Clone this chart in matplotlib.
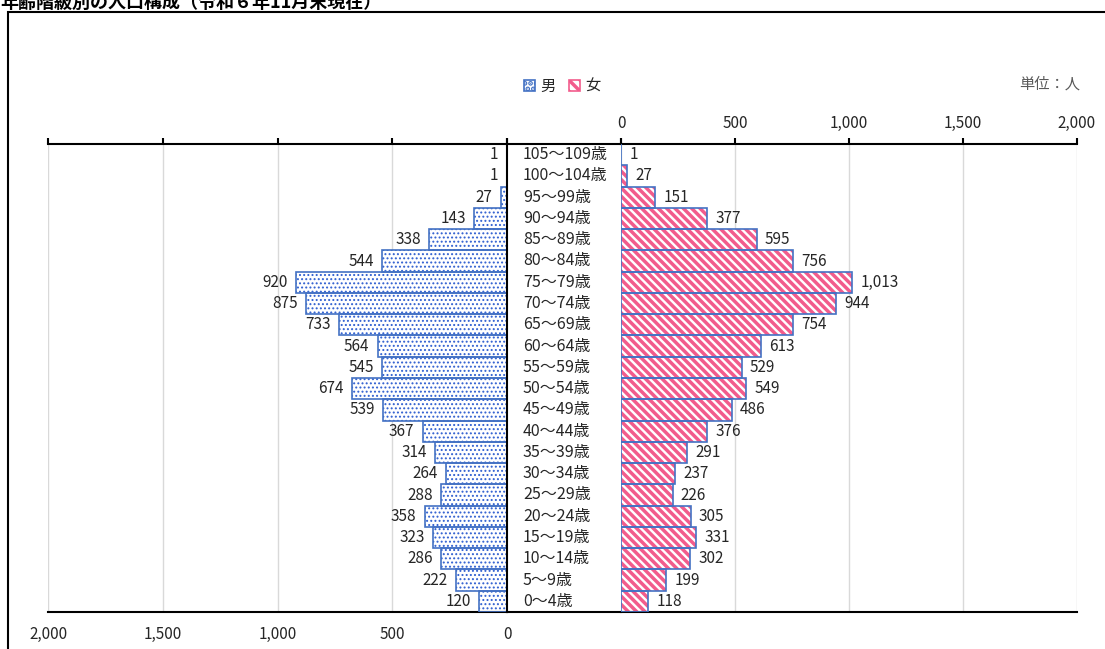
import matplotlib
matplotlib.use("Agg")
import matplotlib.pyplot as plt
from matplotlib.patches import Patch, Rectangle
from matplotlib.ticker import FuncFormatter
import numpy as np

plt.rcParams['font.family'] = ['Noto Sans CJK JP', 'DejaVu Sans']
plt.rcParams['hatch.linewidth'] = 2.5

categories = ['0～4歳', '5～9歳', '10～14歳', '15～19歳', '20～24歳', '25～29歳',
              '30～34歳', '35～39歳', '40～44歳', '45～49歳', '50～54歳', '55～59歳',
              '60～64歳', '65～69歳', '70～74歳', '75～79歳', '80～84歳', '85～89歳',
              '90～94歳', '95～99歳', '100～104歳', '105～109歳']
male = [120, 222, 286, 323, 358, 288, 264, 314, 367, 539, 674, 545, 564, 733,
        875, 920, 544, 338, 143, 27, 1, 1]
female = [118, 199, 302, 331, 305, 226, 237, 291, 376, 486, 549, 529, 613, 754,
          944, 1013, 756, 595, 377, 151, 27, 1]
ticks = [0, 500, 1000, 1500, 2000]
title = '年齢階級別の人口構成（令和６年11月末現在）'

W, H = 1105, 649
fig = plt.figure(figsize=(W / 100, H / 100), dpi=100)

BLUE = '#4472C4'
DOT = '#2F5FD0'
PINK = '#F25C8C'
TXT = '#262626'
GRID = '#D9D9D9'
MHATCH = '....'
FHATCH = '\\\\\\\\'

top_px, bot_px = 144, 612
y0 = 1 - bot_px / H
hh = (bot_px - top_px) / H

axL = fig.add_axes([48 / W, y0, (507 - 48) / W, hh])
axM = fig.add_axes([507 / W, y0, (621 - 507) / W, hh])
axR = fig.add_axes([621 / W, y0, (1077 - 621) / W, hh])

y = np.arange(len(categories))
fmt = FuncFormatter(lambda v, p: f'{int(v):,}')

# left (male)
with plt.rc_context({'hatch.linewidth': 0.9}):
    axL.barh(y, male, height=1.0, color='white', edgecolor=DOT, linewidth=0,
             hatch=MHATCH, zorder=2)
    male_handle = Patch(facecolor='white', edgecolor=BLUE, hatch='...', linewidth=1.2)
axL.barh(y, male, height=1.0, fill=False, edgecolor=BLUE, linewidth=1.2, zorder=3)
axL.set_xlim(2000, 0)
axL.set_ylim(-0.5, len(categories) - 0.5)
for yi, v in zip(y, male):
    axL.annotate(f'{v:,}', (v, yi), xytext=(-6, 0), textcoords='offset points',
                 ha='right', va='center', fontsize=11, color=TXT)

# right (female)
axR.barh(y, female, height=1.0, color='white', edgecolor=PINK, linewidth=0,
         hatch=FHATCH, zorder=2)
axR.barh(y, female, height=1.0, fill=False, edgecolor=BLUE, linewidth=1.2, zorder=3)
axR.set_xlim(0, 2000)
axR.set_ylim(-0.5, len(categories) - 0.5)
for yi, v in zip(y, female):
    axR.annotate(f'{v:,}', (v, yi), xytext=(6, 0), textcoords='offset points',
                 ha='left', va='center', fontsize=11, color=TXT)

for ax in (axL, axR):
    ax.set_xticks(ticks)
    ax.xaxis.set_major_formatter(fmt)
    ax.grid(axis='x', color=GRID, linewidth=1.0, zorder=0)
    ax.set_axisbelow(True)
    ax.set_yticks([])
    for s in ('top', 'bottom'):
        ax.spines[s].set_linewidth(1.5)
        ax.spines[s].set_color('black')
    ax.spines['left'].set_visible(False)
    ax.spines['right'].set_visible(False)

axL.tick_params(axis='x', top=True, bottom=False, labeltop=False, labelbottom=True,
                direction='out', length=4, width=1.5, color='black',
                labelsize=11, labelcolor=TXT, pad=6)
axR.tick_params(axis='x', top=True, bottom=False, labeltop=True, labelbottom=False,
                direction='out', length=4, width=1.5, color='black',
                labelsize=11, labelcolor=TXT, pad=5)

# middle labels
axM.set_xlim(0, 1)
axM.set_ylim(-0.5, len(categories) - 0.5)
axM.set_yticks([])
for s in ('top', 'bottom', 'left'):
    axM.spines[s].set_linewidth(1.5)
    axM.spines[s].set_color('black')
axM.spines['right'].set_visible(False)
for yi, c in zip(y, categories):
    axM.text(0.14, yi, c, ha='left', va='center', fontsize=11.5, color=TXT)
axM.set_xticks([0, 1])
axM.tick_params(axis='x', top=True, bottom=False, labeltop=False, labelbottom=False,
                direction='out', length=4, width=1.5, color='black')

# legend
with plt.rc_context({'hatch.linewidth': 2.0}):
    female_handle = Patch(facecolor='white', edgecolor=PINK, hatch='\\\\\\', linewidth=1.2)
handles = [male_handle, female_handle]
leg = fig.legend(handles, ['男', '女'], ncol=2, loc='center',
                 bbox_to_anchor=(562 / W, 1 - 86 / H), frameon=False,
                 handlelength=0.75, handleheight=0.75, handletextpad=0.3,
                 columnspacing=0.9, fontsize=11, labelcolor=TXT)

fig.text(1080 / W, 1 - 84 / H, '単位：人', ha='right', va='center',
         fontsize=11, color='#595959')

# title (partially clipped at top, as in the reference)
fig.text(0, 1 - 8 / H, title, ha='left', va='baseline', fontsize=13,
         fontweight='bold', color='black')

# outer frame
fig.patches.append(Rectangle((8 / W, -0.2), 1.5, 1.2 - 12 / H, fill=False,
                             edgecolor='black', linewidth=1.5,
                             transform=fig.transFigure, figure=fig))

fig.savefig('out.png', dpi=100)
